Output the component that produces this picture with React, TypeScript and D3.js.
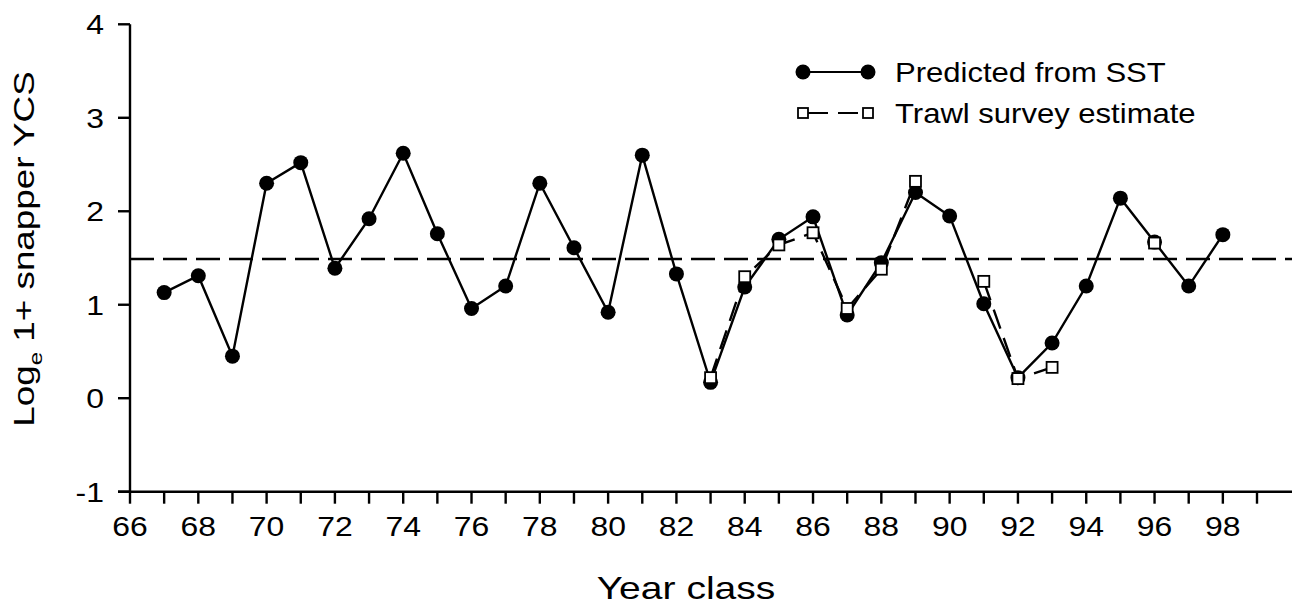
import React from "react";
import * as d3 from "d3";

// Year classes and log_e(1 + YCS) predicted from sea-surface temperature
const years: number[] = [
  67, 68, 69, 70, 71, 72, 73, 74, 75, 76, 77, 78, 79, 80, 81, 82,
  83, 84, 85, 86, 87, 88, 89, 90, 91, 92, 93, 94, 95, 96, 97, 98,
];
const predicted: number[] = [
  1.13, 1.31, 0.45, 2.3, 2.52, 1.39, 1.92, 2.62, 1.76, 0.96, 1.2, 2.3, 1.61, 0.92, 2.6, 1.33,
  0.17, 1.19, 1.7, 1.94, 0.89, 1.45, 2.2, 1.95, 1.01, 0.22, 0.59, 1.2, 2.14, 1.67, 1.2, 1.75,
];

// Trawl survey estimates (null = no survey that year)
const trawlYears: number[] = [83, 84, 85, 86, 87, 88, 89, 90, 91, 92, 93, 94, 95, 96];
const trawl: (number | null)[] = [
  0.22, 1.3, 1.64, 1.77, 0.96, 1.38, 2.32, null, 1.25, 0.21, 0.33, null, null, 1.66,
];

// Long-term mean
const meanLevel = 1.49;

const yTicks: number[] = [-1, 0, 1, 2, 3, 4];
const xMinorTicks: number[] = d3.range(66, 100);
const xLabelTicks: number[] = d3.range(66, 99, 2);

const FONT = "'Liberation Sans', Arial, Helvetica, sans-serif";
const SX = 1.14; // wide lettering
const SW = 2.4;

export default function App() {
  const W = 1292;
  const H = 610;
  const x = d3.scaleLinear().domain([66, 99]).range([130, 1257]);
  const y = d3.scaleLinear().domain([-1, 4]).range([491.7, 24.3]);

  const predPts = years.map((yr, i) => ({ yr, v: predicted[i] }));
  const trawlPts = trawlYears.map((yr, i) => ({ yr, v: trawl[i] }));

  const line = d3
    .line<{ yr: number; v: number | null }>()
    .defined((d) => d.v !== null)
    .x((d) => x(d.yr))
    .y((d) => y(d.v as number));

  const x0 = x(66);
  const yBase = y(-1);

  const sqSize = 11;

  return (
    <svg
      width={W}
      height={H}
      style={{ position: "absolute", left: 0, top: 0, background: "#fff" }}
      fontFamily={FONT}
    >
      <rect width={W} height={H} fill="#fff" />

      {/* mean level */}
      <line
        x1={x0}
        x2={W}
        y1={y(meanLevel)}
        y2={y(meanLevel)}
        stroke="#000"
        strokeWidth={SW}
        strokeDasharray="24,9"
      />

      {/* y axis */}
      <line x1={x0} x2={x0} y1={y(4)} y2={yBase} stroke="#000" strokeWidth={SW} />
      {yTicks.map((t) => (
        <g key={"yt" + t}>
          <line x1={x0 - 12} x2={x0} y1={y(t)} y2={y(t)} stroke="#000" strokeWidth={SW} />
          <text
            transform={`translate(${x0 - 26},${y(t) + 10}) scale(${SX},1)`}
            textAnchor="end"
            fontSize={28}
          >
            {t}
          </text>
        </g>
      ))}

      {/* x axis */}
      <line x1={x0 - 12} x2={W} y1={yBase} y2={yBase} stroke="#000" strokeWidth={SW} />
      {xMinorTicks.map((t) => (
        <line key={"xt" + t} x1={x(t)} x2={x(t)} y1={yBase} y2={yBase + 12} stroke="#000" strokeWidth={SW} />
      ))}
      {xLabelTicks.map((t) => (
        <text
          key={"xl" + t}
          transform={`translate(${x(t)},${yBase + 44}) scale(${SX},1)`}
          textAnchor="middle"
          fontSize={28}
        >
          {t}
        </text>
      ))}

      {/* axis titles */}
      <text
        transform={`translate(686,599) scale(1.22,1)`}
        textAnchor="middle"
        fontSize={32}
      >
        Year class
      </text>
      <text
        transform={`translate(34,249) rotate(-90) scale(1.27,1)`}
        textAnchor="middle"
        fontSize={29}
      >
        Log
        <tspan fontSize={19} dy={8}>e</tspan>
        <tspan dy={-8}> 1+ snapper YCS</tspan>
      </text>

      {/* trawl survey series */}
      <path
        d={line(trawlPts) || ""}
        fill="none"
        stroke="#000"
        strokeWidth={SW}
        strokeDasharray="20,10"
      />

      {/* predicted series */}
      <path d={line(predPts) || ""} fill="none" stroke="#000" strokeWidth={SW} />
      {predPts.map((d) => (
        <circle key={"p" + d.yr} cx={x(d.yr)} cy={y(d.v)} r={7.5} fill="#000" />
      ))}

      {trawlPts
        .filter((d) => d.v !== null)
        .map((d) => (
          <rect
            key={"s" + d.yr}
            x={x(d.yr) - sqSize / 2}
            y={y(d.v as number) - sqSize / 2}
            width={sqSize}
            height={sqSize}
            fill="#fff"
            stroke="#000"
            strokeWidth={1.8}
          />
        ))}

      {/* legend */}
      <g>
        <line x1={803} x2={868} y1={72} y2={72} stroke="#000" strokeWidth={2} />
        <circle cx={803} cy={72} r={7.5} fill="#000" />
        <circle cx={868} cy={72} r={7.5} fill="#000" />
        <text transform={`translate(895,82) scale(1.15,1)`} fontSize={27}>
          Predicted from SST
        </text>

        <line
          x1={808}
          x2={868}
          y1={113}
          y2={113}
          stroke="#000"
          strokeWidth={2}
          strokeDasharray="20,10"
        />
        <rect x={803 - 5} y={113 - 5} width={10} height={10} fill="#fff" stroke="#000" strokeWidth={1.8} />
        <rect x={868 - 5} y={113 - 5} width={10} height={10} fill="#fff" stroke="#000" strokeWidth={1.8} />
        <text transform={`translate(895,123) scale(1.15,1)`} fontSize={27}>
          Trawl survey estimate
        </text>
      </g>
    </svg>
  );
}
